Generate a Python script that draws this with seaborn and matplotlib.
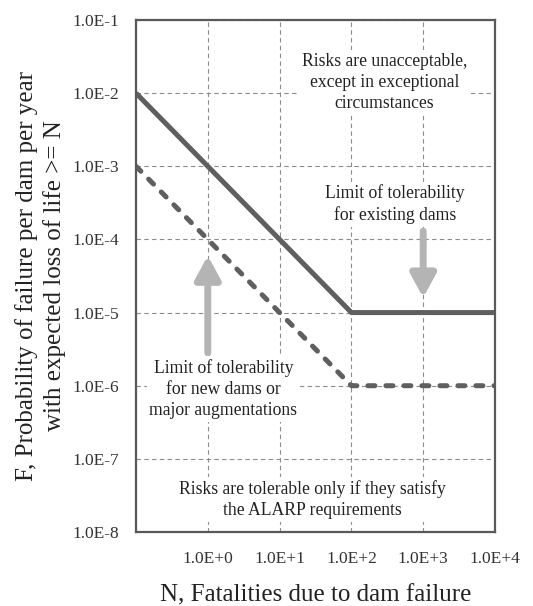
import numpy as np
import pandas as pd
import seaborn as sns
from matplotlib import pyplot as plt

# F-N guideline values
n_points = [0.1, 100, 10000]
f_existing = [1e-2, 1e-5, 1e-5]
f_new = [1e-3, 1e-6, 1e-6]
x_ticks = [1e0, 1e1, 1e2, 1e3, 1e4]
x_labels = ["1.0E+0", "1.0E+1", "1.0E+2", "1.0E+3", "1.0E+4"]
y_ticks = [1e-8, 1e-7, 1e-6, 1e-5, 1e-4, 1e-3, 1e-2, 1e-1]
y_labels = ["1.0E-8", "1.0E-7", "1.0E-6", "1.0E-5", "1.0E-4", "1.0E-3", "1.0E-2", "1.0E-1"]

df = pd.DataFrame({
    "N": n_points * 2,
    "F": f_existing + f_new,
    "limit": ["existing"] * 3 + ["new"] * 3,
})

sns.set_style("white")
plt.rcParams["font.family"] = ["Liberation Serif", "DejaVu Serif"]

fig = plt.figure(figsize=(5.33, 6.06), dpi=100)
ax = fig.add_axes([136 / 533, 1 - 532 / 606, (495 - 136) / 533, (532 - 20) / 606])

line_col = "#5f5f5f"
sns.lineplot(data=df[df.limit == "existing"], x="N", y="F", ax=ax,
             color=line_col, linewidth=3.6, solid_capstyle="butt")
sns.lineplot(data=df[df.limit == "new"], x="N", y="F", ax=ax,
             color=line_col, linewidth=3.6)
ax.lines[-1].set_dashes((1.4, 2.2))
ax.lines[-1].set_dash_capstyle("round")

ax.set_xscale("log")
ax.set_yscale("log")
ax.set_xlim(0.1, 1e4)
ax.set_ylim(1e-8, 1e-1)
ax.set_xticks(x_ticks)
ax.set_xticklabels(x_labels)
ax.set_yticks(y_ticks)
ax.set_yticklabels(y_labels)
ax.minorticks_off()
ax.tick_params(length=0, labelsize=12.5, colors="#333333")
ax.tick_params(axis="x", pad=14)
ax.tick_params(axis="y", pad=12)
ax.grid(True, color="#8c8c8c", linestyle=(0, (4, 3)), linewidth=0.8)
ax.set_axisbelow(True)
for s in ax.spines.values():
    s.set_color("#595959")
    s.set_linewidth(1.6)

ax.set_xlabel("N, Fatalities due to dam failure", fontsize=18, color="#222222", labelpad=12)
ax.set_ylabel("F, Probability of failure per dam per year\nwith expected loss of life >= N",
              fontsize=18, color="#222222", labelpad=5, linespacing=1.25)

# arrows
arrow_col = "#b4b4b4"
arrow = dict(arrowstyle="-|>,head_width=0.38,head_length=0.7", mutation_scale=20,
             color=arrow_col, lw=5, shrinkA=0, shrinkB=0)
ax.annotate("", xy=(1, 6.0e-5), xytext=(1, 2.8e-6), arrowprops=arrow)
ax.annotate("", xy=(1000, 1.6e-5), xytext=(1000, 1.3e-4), arrowprops=arrow)

box = dict(facecolor="white", edgecolor="none", pad=2)
txt = dict(ha="center", va="center", fontsize=12.7, color="#222222", linespacing=1.3, bbox=box)
ax.text(290, 1.4e-2, "Risks are unacceptable,\nexcept in exceptional\ncircumstances", **txt)
ax.text(400, 3.0e-4, "Limit of tolerability\nfor existing dams", **txt)
ax.text(1.65, 9e-7, "Limit of tolerability\nfor new dams or\nmajor augmentations", **txt)
ax.text(29, 2.8e-8, "Risks are tolerable only if they satisfy\nthe ALARP requirements", **txt)

fig.savefig("out.png", dpi=100)
